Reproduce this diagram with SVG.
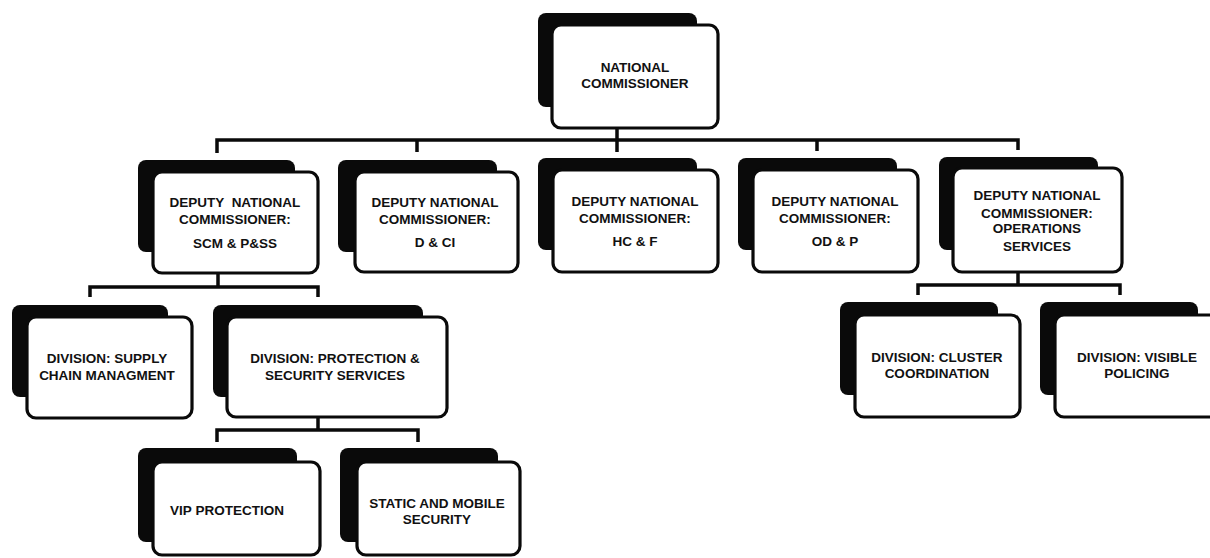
<svg xmlns="http://www.w3.org/2000/svg" width="1210" height="558" viewBox="0 0 1210 558">
<style>
.sh{fill:#0a0a0a;}
.bx{fill:#fff;stroke:#0a0a0a;stroke-width:3.2;}
.t{font-family:"Liberation Sans",Arial,sans-serif;font-weight:bold;font-size:13.5px;fill:#111;text-anchor:middle;}
.c{fill:none;stroke:#0a0a0a;stroke-width:3.5;stroke-linecap:butt;stroke-linejoin:miter;}
</style>
<rect width="1210" height="558" fill="#fff"/>
<g id="connectors">
<path class="c" d="M617 128V152M217 153V140H1018V150M417 140V152M817 140V151"/>
<path class="c" d="M218 273V287M90 297V287H318V297"/>
<path class="c" d="M318 417V430M217 442V430H418V442"/>
<path class="c" d="M1018 272V285M918 295V285H1120V295"/>
</g>
<g id="n-national">
<rect class="sh" x="538" y="13" width="159" height="94" rx="8"/>
<rect class="bx" x="552" y="25" width="166" height="103" rx="9"/>
<text class="t" x="635" y="72">NATIONAL</text>
<text class="t" x="635" y="88">COMMISSIONER</text>
</g>
<g id="n-scm">
<rect class="sh" x="138" y="160" width="157" height="92" rx="8"/>
<rect class="bx" x="153" y="172" width="165" height="101" rx="9"/>
<text class="t" x="235" y="207" xml:space="preserve">DEPUTY  NATIONAL</text>
<text class="t" x="235" y="224">COMMISSIONER:</text>
<text class="t" x="235" y="248">SCM &amp; P&amp;SS</text>
</g>
<g id="n-dci">
<rect class="sh" x="338" y="160" width="159" height="92" rx="8"/>
<rect class="bx" x="355" y="172" width="163" height="100" rx="9"/>
<text class="t" x="435" y="207">DEPUTY NATIONAL</text>
<text class="t" x="435" y="224">COMMISSIONER:</text>
<text class="t" x="435" y="247">D &amp; CI</text>
</g>
<g id="n-hcf">
<rect class="sh" x="538" y="158" width="159" height="92" rx="8"/>
<rect class="bx" x="553" y="170" width="165" height="102" rx="9"/>
<text class="t" x="635" y="206">DEPUTY NATIONAL</text>
<text class="t" x="635" y="223">COMMISSIONER:</text>
<text class="t" x="635" y="246">HC &amp; F</text>
</g>
<g id="n-odp">
<rect class="sh" x="738" y="158" width="159" height="92" rx="8"/>
<rect class="bx" x="753" y="170" width="165" height="102" rx="9"/>
<text class="t" x="835" y="206">DEPUTY NATIONAL</text>
<text class="t" x="835" y="223">COMMISSIONER:</text>
<text class="t" x="835" y="246">OD &amp; P</text>
</g>
<g id="n-ops">
<rect class="sh" x="939" y="157" width="159" height="93" rx="8"/>
<rect class="bx" x="953" y="168" width="169" height="104" rx="9"/>
<text class="t" x="1037" y="200">DEPUTY NATIONAL</text>
<text class="t" x="1037" y="218">COMMISSIONER:</text>
<text class="t" x="1037" y="233">OPERATIONS</text>
<text class="t" x="1037" y="251">SERVICES</text>
</g>
<g id="n-supply">
<rect class="sh" x="12" y="305" width="156" height="92" rx="8"/>
<rect class="bx" x="27" y="317" width="165" height="101" rx="9"/>
<text class="t" x="107" y="363">DIVISION: SUPPLY</text>
<text class="t" x="107" y="380">CHAIN MANAGMENT</text>
</g>
<g id="n-protection">
<rect class="sh" x="213" y="305" width="210" height="92" rx="8"/>
<rect class="bx" x="227" y="317" width="220" height="100" rx="9"/>
<text class="t" x="335" y="363">DIVISION: PROTECTION &amp;</text>
<text class="t" x="335" y="380">SECURITY SERVICES</text>
</g>
<g id="n-vip">
<rect class="sh" x="138" y="448" width="159" height="94" rx="8"/>
<rect class="bx" x="153" y="462" width="167" height="93" rx="9"/>
<text class="t" x="227" y="515">VIP PROTECTION</text>
</g>
<g id="n-static">
<rect class="sh" x="340" y="448" width="158" height="94" rx="8"/>
<rect class="bx" x="357" y="462" width="163" height="93" rx="9"/>
<text class="t" x="437" y="508">STATIC AND MOBILE</text>
<text class="t" x="437" y="524">SECURITY</text>
</g>
<g id="n-cluster">
<rect class="sh" x="840" y="302" width="158" height="93" rx="8"/>
<rect class="bx" x="855" y="315" width="165" height="102" rx="9"/>
<text class="t" x="937" y="362">DIVISION: CLUSTER</text>
<text class="t" x="937" y="378">COORDINATION</text>
</g>
<g id="n-visible">
<rect class="sh" x="1040" y="302" width="158" height="93" rx="8"/>
<rect class="bx" x="1055" y="315" width="170" height="102" rx="9"/>
<text class="t" x="1137" y="362">DIVISION: VISIBLE</text>
<text class="t" x="1137" y="378">POLICING</text>
</g>
</svg>
